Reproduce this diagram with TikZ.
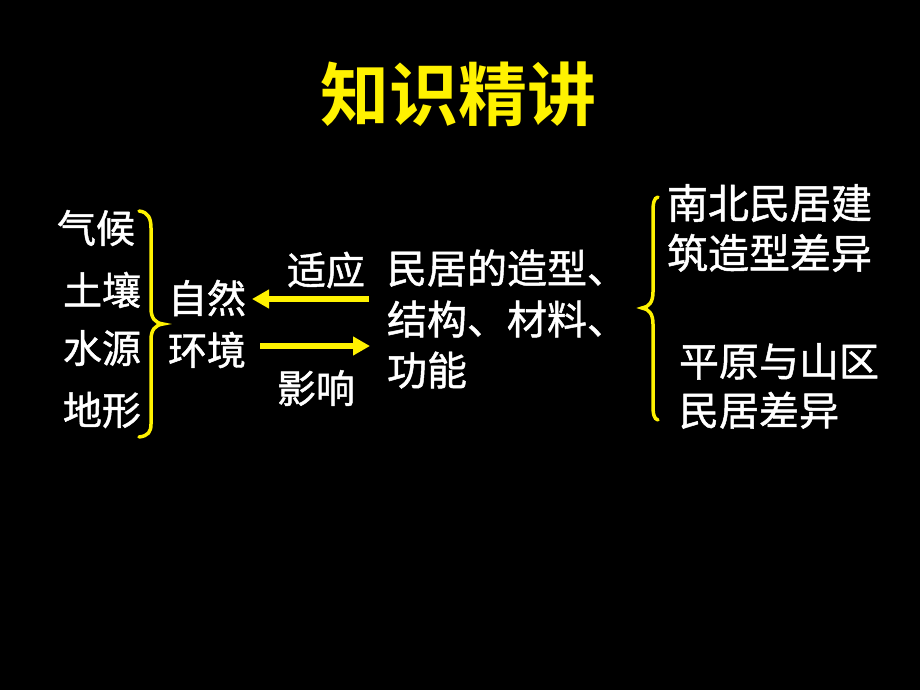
\documentclass[tikz,border=0pt]{standalone}
\usepackage{fontspec}
\newfontfamily\cjk{Noto Sans CJK SC}[FakeBold=1.2]
\newfontfamily\cjkb{Noto Sans CJK SC Bold}
\usetikzlibrary{arrows.meta}
\tikzset{
  txt/.style={text=white, inner sep=0pt, outer sep=0pt, anchor=west, align=left, font=\cjk\fontsize{39}{50}\selectfont},
  brc/.style={draw=yellow, line width=3.5pt, line cap=round},
  arr/.style={draw=yellow, line width=6pt, -{Triangle[length=17pt,width=18pt]}}
}
\begin{document}
\begin{tikzpicture}[x=1pt,y=-1pt]
\fill[black] (0,0) rectangle (920,690);
\useasboundingbox (0,0) rectangle (920,690);
\node[text=yellow, inner sep=0pt, font=\cjkb\fontsize{69}{69}\selectfont] (title) at (458,94) {知识精讲};
\node[txt] (qh) at (57,228) {气候};
\node[txt] (tr) at (63,290) {土壤};
\node[txt] (sy) at (63,348) {水源};
\node[txt] (dx) at (63,410) {地形};
\node[txt, font=\cjk\fontsize{39}{52}\selectfont] (zr) at (168,324) {自然\\环境};
\node[txt] (sy2) at (287,270) {适应};
\node[txt] (yx) at (277,388) {影响};
\node[txt, font=\cjk\fontsize{40}{51}\selectfont] (mj) at (387,319) {民居的造型、\\结构、材料、\\功能};
\node[txt, font=\cjk\fontsize{41}{50}\selectfont] (nb) at (667,228) {南北民居建\\筑造型差异};
\node[txt, font=\cjk\fontsize{40}{49}\selectfont] (py) at (679,386) {平原与山区\\民居差异};
% braces
\draw[brc] (139,211) .. controls (148,212) and (151,218) .. (151,228) -- (151,308)
  .. controls (151,318) and (155,323) .. (163,324)
  .. controls (155,325) and (151,330) .. (151,340) -- (151,424)
  .. controls (151,432) and (148,436) .. (139,437);
\draw[brc] (658,197) .. controls (654,198) and (653,203) .. (653,212) -- (653,292)
  .. controls (653,302) and (649,307) .. (642,308)
  .. controls (649,309) and (653,314) .. (653,324) -- (653,405)
  .. controls (653,414) and (654,419) .. (658,420);
% arrows
\coordinate (a1s) at (369,299);
\coordinate (a1e) at (252,299);
\coordinate (a2s) at (260,346);
\coordinate (a2e) at (370,346);
\draw[arr] (a1s) -- (a1e);
\draw[arr] (a2s) -- (a2e);
\end{tikzpicture}
\end{document}
